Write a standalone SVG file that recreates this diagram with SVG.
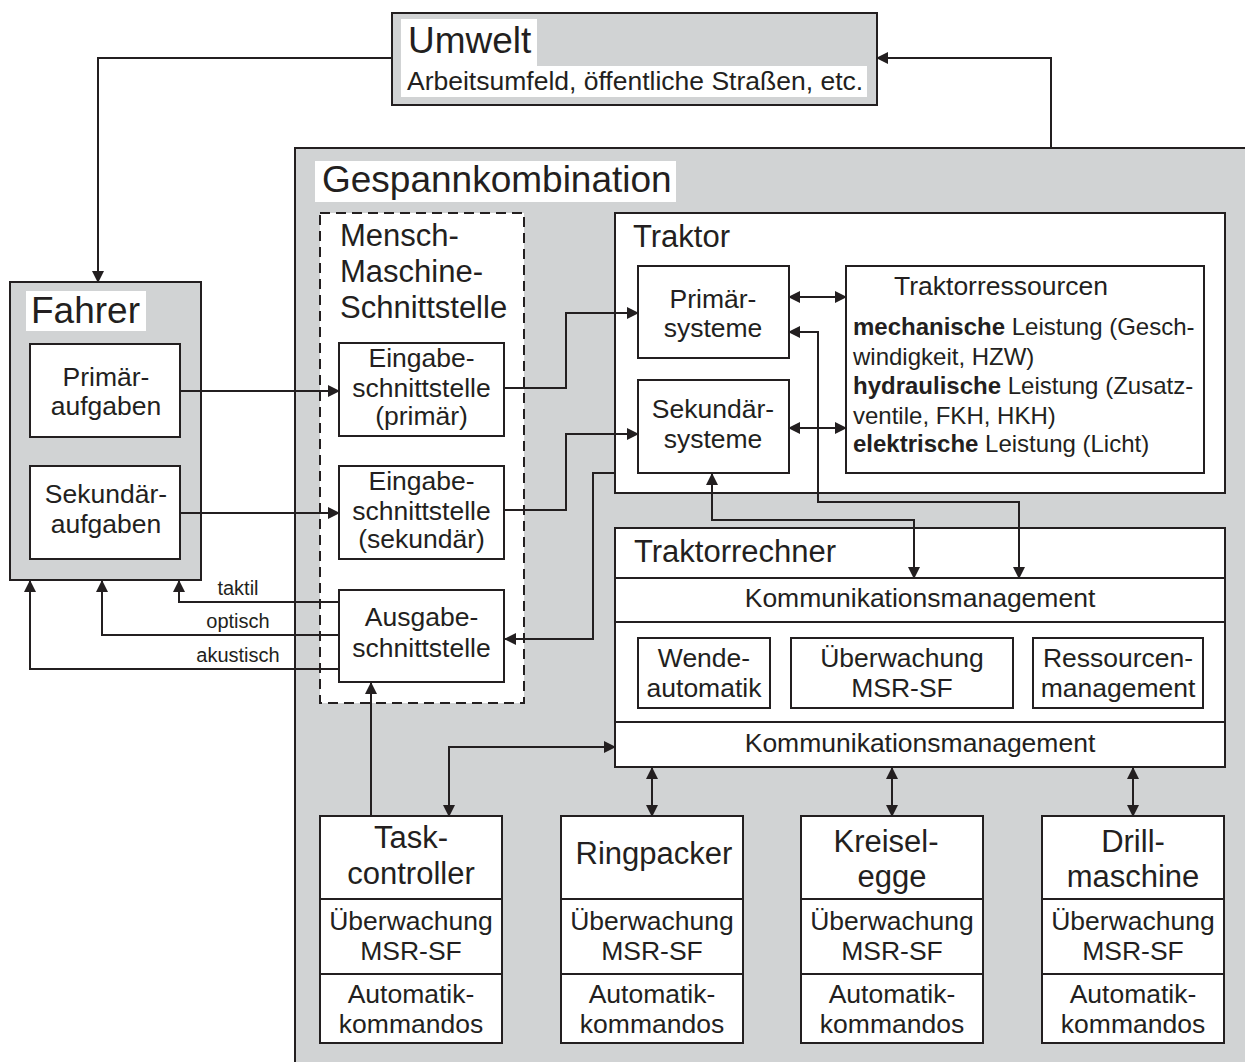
<svg xmlns="http://www.w3.org/2000/svg" width="1245" height="1062" viewBox="0 0 1245 1062">
  <style>
    text { font-family: "Liberation Sans", Arial, sans-serif; fill: #231f20; }
    .gray { fill: #d1d3d4; stroke: #231f20; stroke-width: 2; }
    .box { fill: #ffffff; stroke: #231f20; stroke-width: 2; }
    .dash { fill: #ffffff; stroke: #231f20; stroke-width: 2; stroke-dasharray: 10 6; }
    .lbl { fill: #ffffff; }
    .div { stroke: #231f20; stroke-width: 2; fill: none; }
    .t37 { font-size: 37px; }
    .t31 { font-size: 31px; }
    .t26 { font-size: 26.5px; }
    .t24 { font-size: 24px; }
    .t20 { font-size: 20px; }
    .c { text-anchor: middle; }
    .b { font-weight: bold; }
    .conn path { fill: none; stroke: #231f20; stroke-width: 2; }
  </style>
  <defs>
    <marker id="ah" viewBox="0 0 12 12" refX="11" refY="6" markerWidth="12" markerHeight="12" markerUnits="userSpaceOnUse" orient="auto-start-reverse">
      <path d="M0,0 L12,6 L0,12 z" fill="#231f20"/>
    </marker>
  </defs>

  <rect width="1245" height="1062" fill="#ffffff"/>

  <!-- Umwelt -->
  <g id="umwelt">
    <rect class="gray" x="392" y="13" width="485" height="92"/>
    <rect class="lbl" x="401" y="19" width="136" height="47"/>
    <rect class="lbl" x="401" y="66" width="466" height="31"/>
    <text class="t37" x="408" y="53">Umwelt</text>
    <text class="t26" x="407" y="90">Arbeitsumfeld, öffentliche Straßen, etc.</text>
  </g>

  <!-- Fahrer -->
  <g id="fahrer">
    <rect class="gray" x="10" y="282" width="191" height="298"/>
    <rect class="lbl" x="26" y="291" width="120" height="40"/>
    <text class="t37" x="31" y="323">Fahrer</text>
  </g>
  <g id="primaeraufgaben">
    <rect class="box" x="30" y="344" width="150" height="93"/>
    <text class="t26 c" x="106" y="386">Primär-</text>
    <text class="t26 c" x="106" y="415">aufgaben</text>
  </g>
  <g id="sekundaeraufgaben">
    <rect class="box" x="30" y="466" width="150" height="93"/>
    <text class="t26 c" x="106" y="503">Sekundär-</text>
    <text class="t26 c" x="106" y="533">aufgaben</text>
  </g>

  <!-- Gespannkombination -->
  <g id="gespannkombination">
    <rect class="gray" x="295" y="148" width="960" height="930"/>
    <rect class="lbl" x="315" y="161" width="361" height="41"/>
    <text class="t37" x="322" y="192">Gespannkombination</text>
  </g>

  <!-- Mensch-Maschine-Schnittstelle -->
  <g id="mms">
    <rect class="dash" x="320" y="213" width="204" height="490"/>
    <text class="t31" x="340" y="246">Mensch-</text>
    <text class="t31" x="340" y="282">Maschine-</text>
    <text class="t31" x="340" y="318">Schnittstelle</text>
  </g>
  <g id="eingabe-primaer">
    <rect class="box" x="339" y="343" width="165" height="93"/>
    <text class="t26 c" x="421.5" y="367">Eingabe-</text>
    <text class="t26 c" x="421.5" y="397">schnittstelle</text>
    <text class="t26 c" x="421.5" y="425">(primär)</text>
  </g>
  <g id="eingabe-sekundaer">
    <rect class="box" x="339" y="466" width="165" height="93"/>
    <text class="t26 c" x="421.5" y="490">Eingabe-</text>
    <text class="t26 c" x="421.5" y="520">schnittstelle</text>
    <text class="t26 c" x="421.5" y="548">(sekundär)</text>
  </g>
  <g id="ausgabe">
    <rect class="box" x="339" y="590" width="165" height="92"/>
    <text class="t26 c" x="421.5" y="626">Ausgabe-</text>
    <text class="t26 c" x="421.5" y="657">schnittstelle</text>
  </g>

  <!-- Traktor -->
  <g id="traktor">
    <rect class="box" x="615" y="213" width="610" height="280"/>
    <text class="t31" x="633" y="247">Traktor</text>
  </g>
  <g id="primaersysteme">
    <rect class="box" x="638" y="266" width="151" height="92"/>
    <text class="t26 c" x="713" y="308">Primär-</text>
    <text class="t26 c" x="713" y="337">systeme</text>
  </g>
  <g id="sekundaersysteme">
    <rect class="box" x="638" y="380" width="151" height="93"/>
    <text class="t26 c" x="713" y="418">Sekundär-</text>
    <text class="t26 c" x="713" y="448">systeme</text>
  </g>
  <g id="traktorressourcen">
    <rect class="box" x="846" y="266" width="358" height="207"/>
    <text class="t26" x="894" y="295">Traktorressourcen</text>
    <text class="t24" x="853" y="335"><tspan class="b">mechanische</tspan> Leistung (Gesch-</text>
    <text class="t24" x="853" y="365">windigkeit, HZW)</text>
    <text class="t24" x="853" y="394"><tspan class="b">hydraulische</tspan> Leistung (Zusatz-</text>
    <text class="t24" x="853" y="424">ventile, FKH, HKH)</text>
    <text class="t24" x="853" y="452"><tspan class="b">elektrische</tspan> Leistung (Licht)</text>
  </g>

  <!-- Traktorrechner -->
  <g id="traktorrechner">
    <rect class="box" x="615" y="528" width="610" height="239"/>
    <path class="div" d="M615,578 H1225 M615,622 H1225 M615,722 H1225"/>
    <text class="t31" x="634" y="562">Traktorrechner</text>
    <text class="t26 c" x="920" y="607">Kommunikationsmanagement</text>
    <text class="t26 c" x="920" y="752">Kommunikationsmanagement</text>
  </g>
  <g id="wendeautomatik">
    <rect class="box" x="638" y="638" width="132" height="70"/>
    <text class="t26 c" x="704" y="667">Wende-</text>
    <text class="t26 c" x="704" y="697">automatik</text>
  </g>
  <g id="ueberwachung-traktor">
    <rect class="box" x="791" y="638" width="222" height="70"/>
    <text class="t26 c" x="902" y="667">Überwachung</text>
    <text class="t26 c" x="902" y="697">MSR-SF</text>
  </g>
  <g id="ressourcenmanagement">
    <rect class="box" x="1033" y="638" width="170" height="70"/>
    <text class="t26 c" x="1118" y="667">Ressourcen-</text>
    <text class="t26 c" x="1118" y="697">management</text>
  </g>

  <!-- Anbaugeraete -->
  <g id="taskcontroller">
    <rect class="box" x="320" y="816" width="182" height="227"/>
    <path class="div" d="M320,899 H502 M320,974 H502"/>
    <text class="t31 c" x="411" y="848">Task-</text>
    <text class="t31 c" x="411" y="884">controller</text>
    <text class="t26 c" x="411" y="930">Überwachung</text>
    <text class="t26 c" x="411" y="960">MSR-SF</text>
    <text class="t26 c" x="411" y="1003">Automatik-</text>
    <text class="t26 c" x="411" y="1033">kommandos</text>
  </g>
  <g id="ringpacker">
    <rect class="box" x="561" y="816" width="182" height="227"/>
    <path class="div" d="M561,899 H743 M561,974 H743"/>
    <text class="t31 c" x="654" y="864">Ringpacker</text>
    <text class="t26 c" x="652" y="930">Überwachung</text>
    <text class="t26 c" x="652" y="960">MSR-SF</text>
    <text class="t26 c" x="652" y="1003">Automatik-</text>
    <text class="t26 c" x="652" y="1033">kommandos</text>
  </g>
  <g id="kreiselegge">
    <rect class="box" x="801" y="816" width="182" height="227"/>
    <path class="div" d="M801,899 H983 M801,974 H983"/>
    <text class="t31 c" x="886" y="852">Kreisel-</text>
    <text class="t31 c" x="892" y="887">egge</text>
    <text class="t26 c" x="892" y="930">Überwachung</text>
    <text class="t26 c" x="892" y="960">MSR-SF</text>
    <text class="t26 c" x="892" y="1003">Automatik-</text>
    <text class="t26 c" x="892" y="1033">kommandos</text>
  </g>
  <g id="drillmaschine">
    <rect class="box" x="1042" y="816" width="182" height="227"/>
    <path class="div" d="M1042,899 H1224 M1042,974 H1224"/>
    <text class="t31 c" x="1133" y="852">Drill-</text>
    <text class="t31 c" x="1133" y="887">maschine</text>
    <text class="t26 c" x="1133" y="930">Überwachung</text>
    <text class="t26 c" x="1133" y="960">MSR-SF</text>
    <text class="t26 c" x="1133" y="1003">Automatik-</text>
    <text class="t26 c" x="1133" y="1033">kommandos</text>
  </g>

  <!-- Verbindungen -->
  <g id="connectors" class="conn">
    <path d="M392,58 H98 V282" marker-end="url(#ah)"/>
    <path d="M1051,148 V58 H877" marker-end="url(#ah)"/>
    <path d="M180,391 H339" marker-end="url(#ah)"/>
    <path d="M180,513 H339" marker-end="url(#ah)"/>
    <path d="M339,602 H179 V581" marker-end="url(#ah)"/>
    <path d="M339,635 H102 V581" marker-end="url(#ah)"/>
    <path d="M339,669 H30 V581" marker-end="url(#ah)"/>
    <path d="M504,388 H566 V313 H638" marker-end="url(#ah)"/>
    <path d="M504,510 H566 V434 H638" marker-end="url(#ah)"/>
    <path d="M615,473 H593 V639 H505" marker-end="url(#ah)"/>
    <path d="M789,297 H846" marker-start="url(#ah)" marker-end="url(#ah)"/>
    <path d="M789,428 H846" marker-start="url(#ah)" marker-end="url(#ah)"/>
    <path d="M789,332 H818 V502 H1019 V578" marker-start="url(#ah)" marker-end="url(#ah)"/>
    <path d="M712,474 V520 H914 V578" marker-start="url(#ah)" marker-end="url(#ah)"/>
    <path d="M371,816 V683" marker-end="url(#ah)"/>
    <path d="M449,816 V747 H615" marker-start="url(#ah)" marker-end="url(#ah)"/>
    <path d="M652,768 V816" marker-start="url(#ah)" marker-end="url(#ah)"/>
    <path d="M892,768 V816" marker-start="url(#ah)" marker-end="url(#ah)"/>
    <path d="M1133,768 V816" marker-start="url(#ah)" marker-end="url(#ah)"/>
  </g>

  <!-- Kanalbeschriftungen -->
  <g id="channel-labels">
    <text class="t20 c" x="238" y="595">taktil</text>
    <text class="t20 c" x="238" y="628">optisch</text>
    <text class="t20 c" x="238" y="662">akustisch</text>
  </g>
</svg>
